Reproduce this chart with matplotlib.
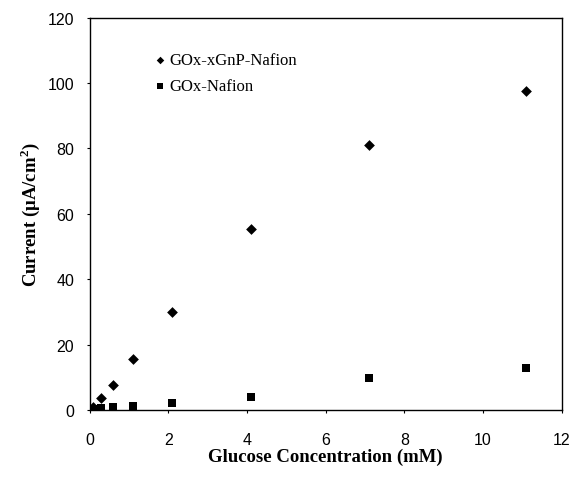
import matplotlib
matplotlib.use('Agg')
import matplotlib.pyplot as plt

plt.rcParams['mathtext.fontset'] = 'custom'
plt.rcParams['mathtext.rm'] = 'Liberation Serif'
plt.rcParams['mathtext.bf'] = 'Liberation Serif:bold'

# glucose concentration (mM) and response current (uA/cm^2)
glucose = [0.1, 0.3, 0.6, 1.1, 2.1, 4.1, 7.1, 11.1]
current_xgnp = [1.0, 3.7, 7.6, 15.6, 30.0, 55.4, 81.1, 97.7]
current_nafion = [0.3, 0.5, 0.9, 1.1, 2.1, 4.1, 9.7, 12.9]

fig = plt.figure(figsize=(5.75, 4.81), dpi=100)
ax = fig.add_axes([0.1557, 0.1455, 0.8212, 0.8156])

ax.scatter(glucose, current_xgnp, marker='D', s=30, color='black',
           linewidths=0, label='GOx-xGnP-Nafion', zorder=3)
ax.scatter(glucose, current_nafion, marker='s', s=36, color='black',
           linewidths=0, label='GOx-Nafion', zorder=3)

ax.set_xlim(0, 12)
ax.set_ylim(0, 120)
ax.set_xticks(range(0, 13, 2))
ax.set_yticks(range(0, 121, 20))
ax.tick_params(direction='out', length=2, width=0.8, labelsize=11.5)
ax.tick_params(axis='x', pad=14)
ax.tick_params(axis='y', pad=9)
for lbl in ax.get_xticklabels() + ax.get_yticklabels():
    lbl.set_family('Liberation Sans')
for sp in ax.spines.values():
    sp.set_linewidth(1.0)

ax.set_xlabel('Glucose Concentration (mM)', family='Liberation Serif',
              fontweight='bold', fontsize=13.5, labelpad=0)
ax.set_ylabel(r'Current ($\mathbf{\mu}$A/cm$^\mathbf{2}$)', family='Liberation Serif',
              fontweight='bold', fontsize=13.5, labelpad=4)

ax.legend(loc='upper left', bbox_to_anchor=(0.103, 0.95), frameon=False,
          prop={'family': 'Liberation Serif', 'size': 12},
          handlelength=0.8, handletextpad=0.2, labelspacing=0.6,
          markerscale=0.7)

fig.savefig('out.png', dpi=100)
